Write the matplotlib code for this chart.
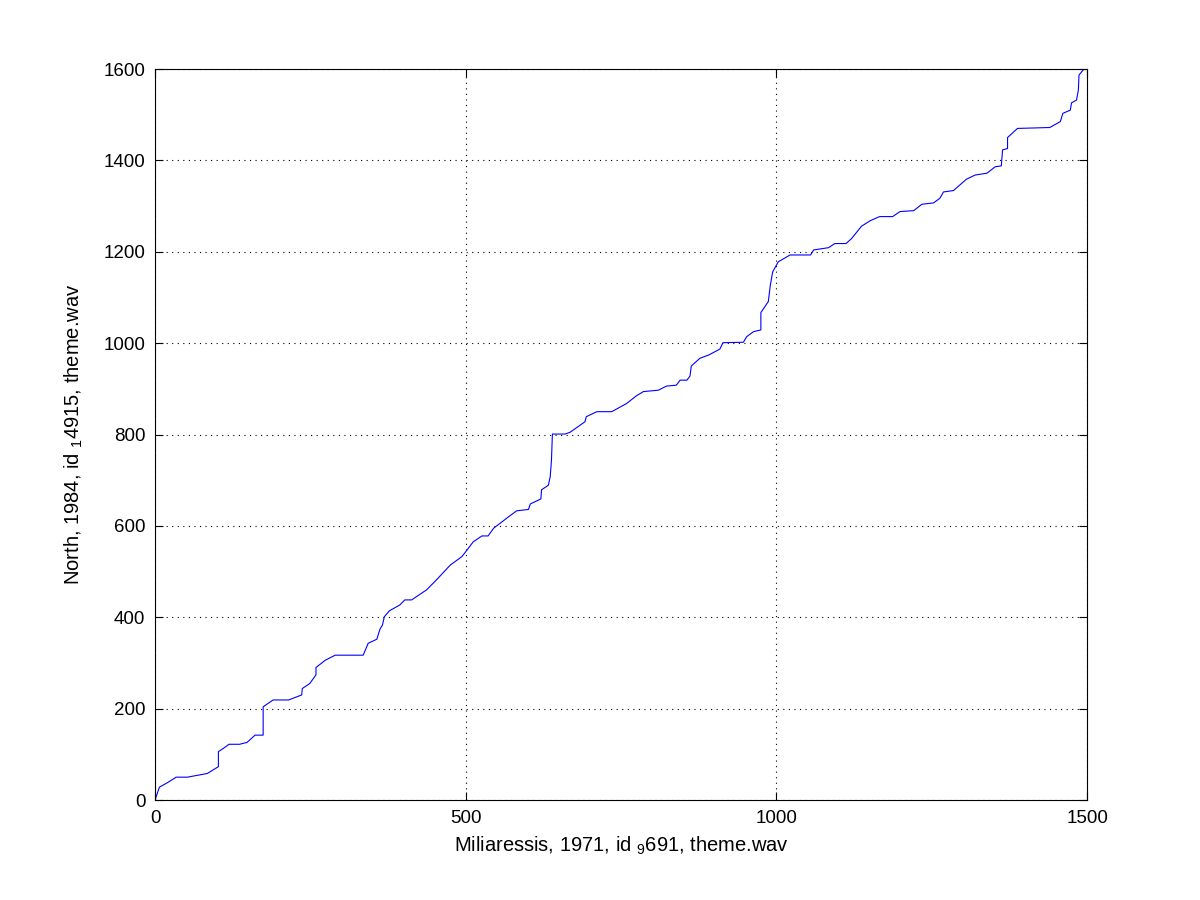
import matplotlib
matplotlib.use("Agg")
import matplotlib.pyplot as plt

plt.rcParams['font.family'] = ['Liberation Sans', 'DejaVu Sans']
plt.rcParams['mathtext.fontset'] = 'custom'
plt.rcParams['mathtext.rm'] = 'Liberation Sans'
plt.rcParams['mathtext.it'] = 'Liberation Sans'

# Warping path waypoints (x: Miliaressis frames, y: North frames)
path_x = [0, 7, 20, 34, 52, 72, 84, 102, 102, 110, 119, 136, 148, 161, 170, 174, 174,
          190, 215, 236, 237, 249, 259, 259, 274, 290, 335, 343, 357, 362, 366, 369, 377,
          394, 402, 413, 437, 453, 475, 494, 502, 512, 526, 536, 545, 571, 582, 601, 604,
          621, 622, 633, 636, 638, 639.5, 660, 668, 692, 694, 711, 735, 759, 775, 786, 810,
          823, 839, 845, 856, 861, 863, 877, 891, 909, 914, 947, 952, 963, 975, 975, 987,
          990, 994, 1003, 1022, 1055, 1060, 1084, 1094, 1112, 1121, 1137, 1151, 1166, 1187,
          1199, 1221, 1234, 1253, 1263, 1269, 1285, 1306, 1320, 1339, 1352, 1362, 1364,
          1372, 1372, 1388, 1440, 1457, 1461, 1473, 1475, 1483, 1486, 1487, 1495]
path_y = [0, 28, 38, 50, 50, 55, 58, 73, 106, 113, 122, 122, 126, 142, 142, 142, 204,
          219, 219, 230, 244, 255, 274, 290, 306, 317, 317, 343, 352, 374, 383, 401, 414,
          427, 438, 438, 460, 482, 514, 533, 547, 565, 578, 578, 595, 622, 633, 636, 648,
          659, 679, 689, 708, 744, 801, 801, 805, 828, 839, 850, 850, 868, 885, 894, 897,
          906, 908, 919, 919, 928, 950, 967, 974, 987, 1001, 1002, 1014, 1025, 1029, 1067, 1091,
          1125, 1156, 1178, 1193, 1193, 1204, 1209, 1218, 1218, 1229, 1256, 1268, 1277, 1277,
          1288, 1290, 1304, 1307, 1317, 1331, 1334, 1359, 1368, 1372, 1386, 1388, 1423,
          1426, 1450, 1470, 1472, 1485, 1503, 1510, 1526, 1532, 1554, 1587, 1600]

xticks = [0, 500, 1000, 1500]
yticks = [0, 200, 400, 600, 800, 1000, 1200, 1400, 1600]

fig = plt.figure(figsize=(12, 9), dpi=100)
ax = fig.add_axes([0.1292, 0.1111, 0.7767, 0.8122])
ax.plot(path_x, path_y, color=(0, 0, 1), lw=0.8)

ax.set_xlim(0, 1500)
ax.set_ylim(0, 1600)
ax.set_xticks(xticks)
ax.set_yticks(yticks)
ax.tick_params(direction='in', top=True, right=True, length=6, width=0.8,
               labelsize=13.5, colors='k', pad=7)
ax.grid(True, linestyle=(0, (1, 4)), color='k', lw=0.8)
for s in ax.spines.values():
    s.set_linewidth(0.8)

ax.set_xlabel(r'Miliaressis, 1971, id $_{\mathrm{9}}$691, theme.wav', fontsize=14.5, labelpad=6)
ax.set_ylabel(r'North, 1984, id $_{\mathrm{1}}$4915, theme.wav', fontsize=14.5, labelpad=13)

fig.savefig('out.png', dpi=100, facecolor='white')
